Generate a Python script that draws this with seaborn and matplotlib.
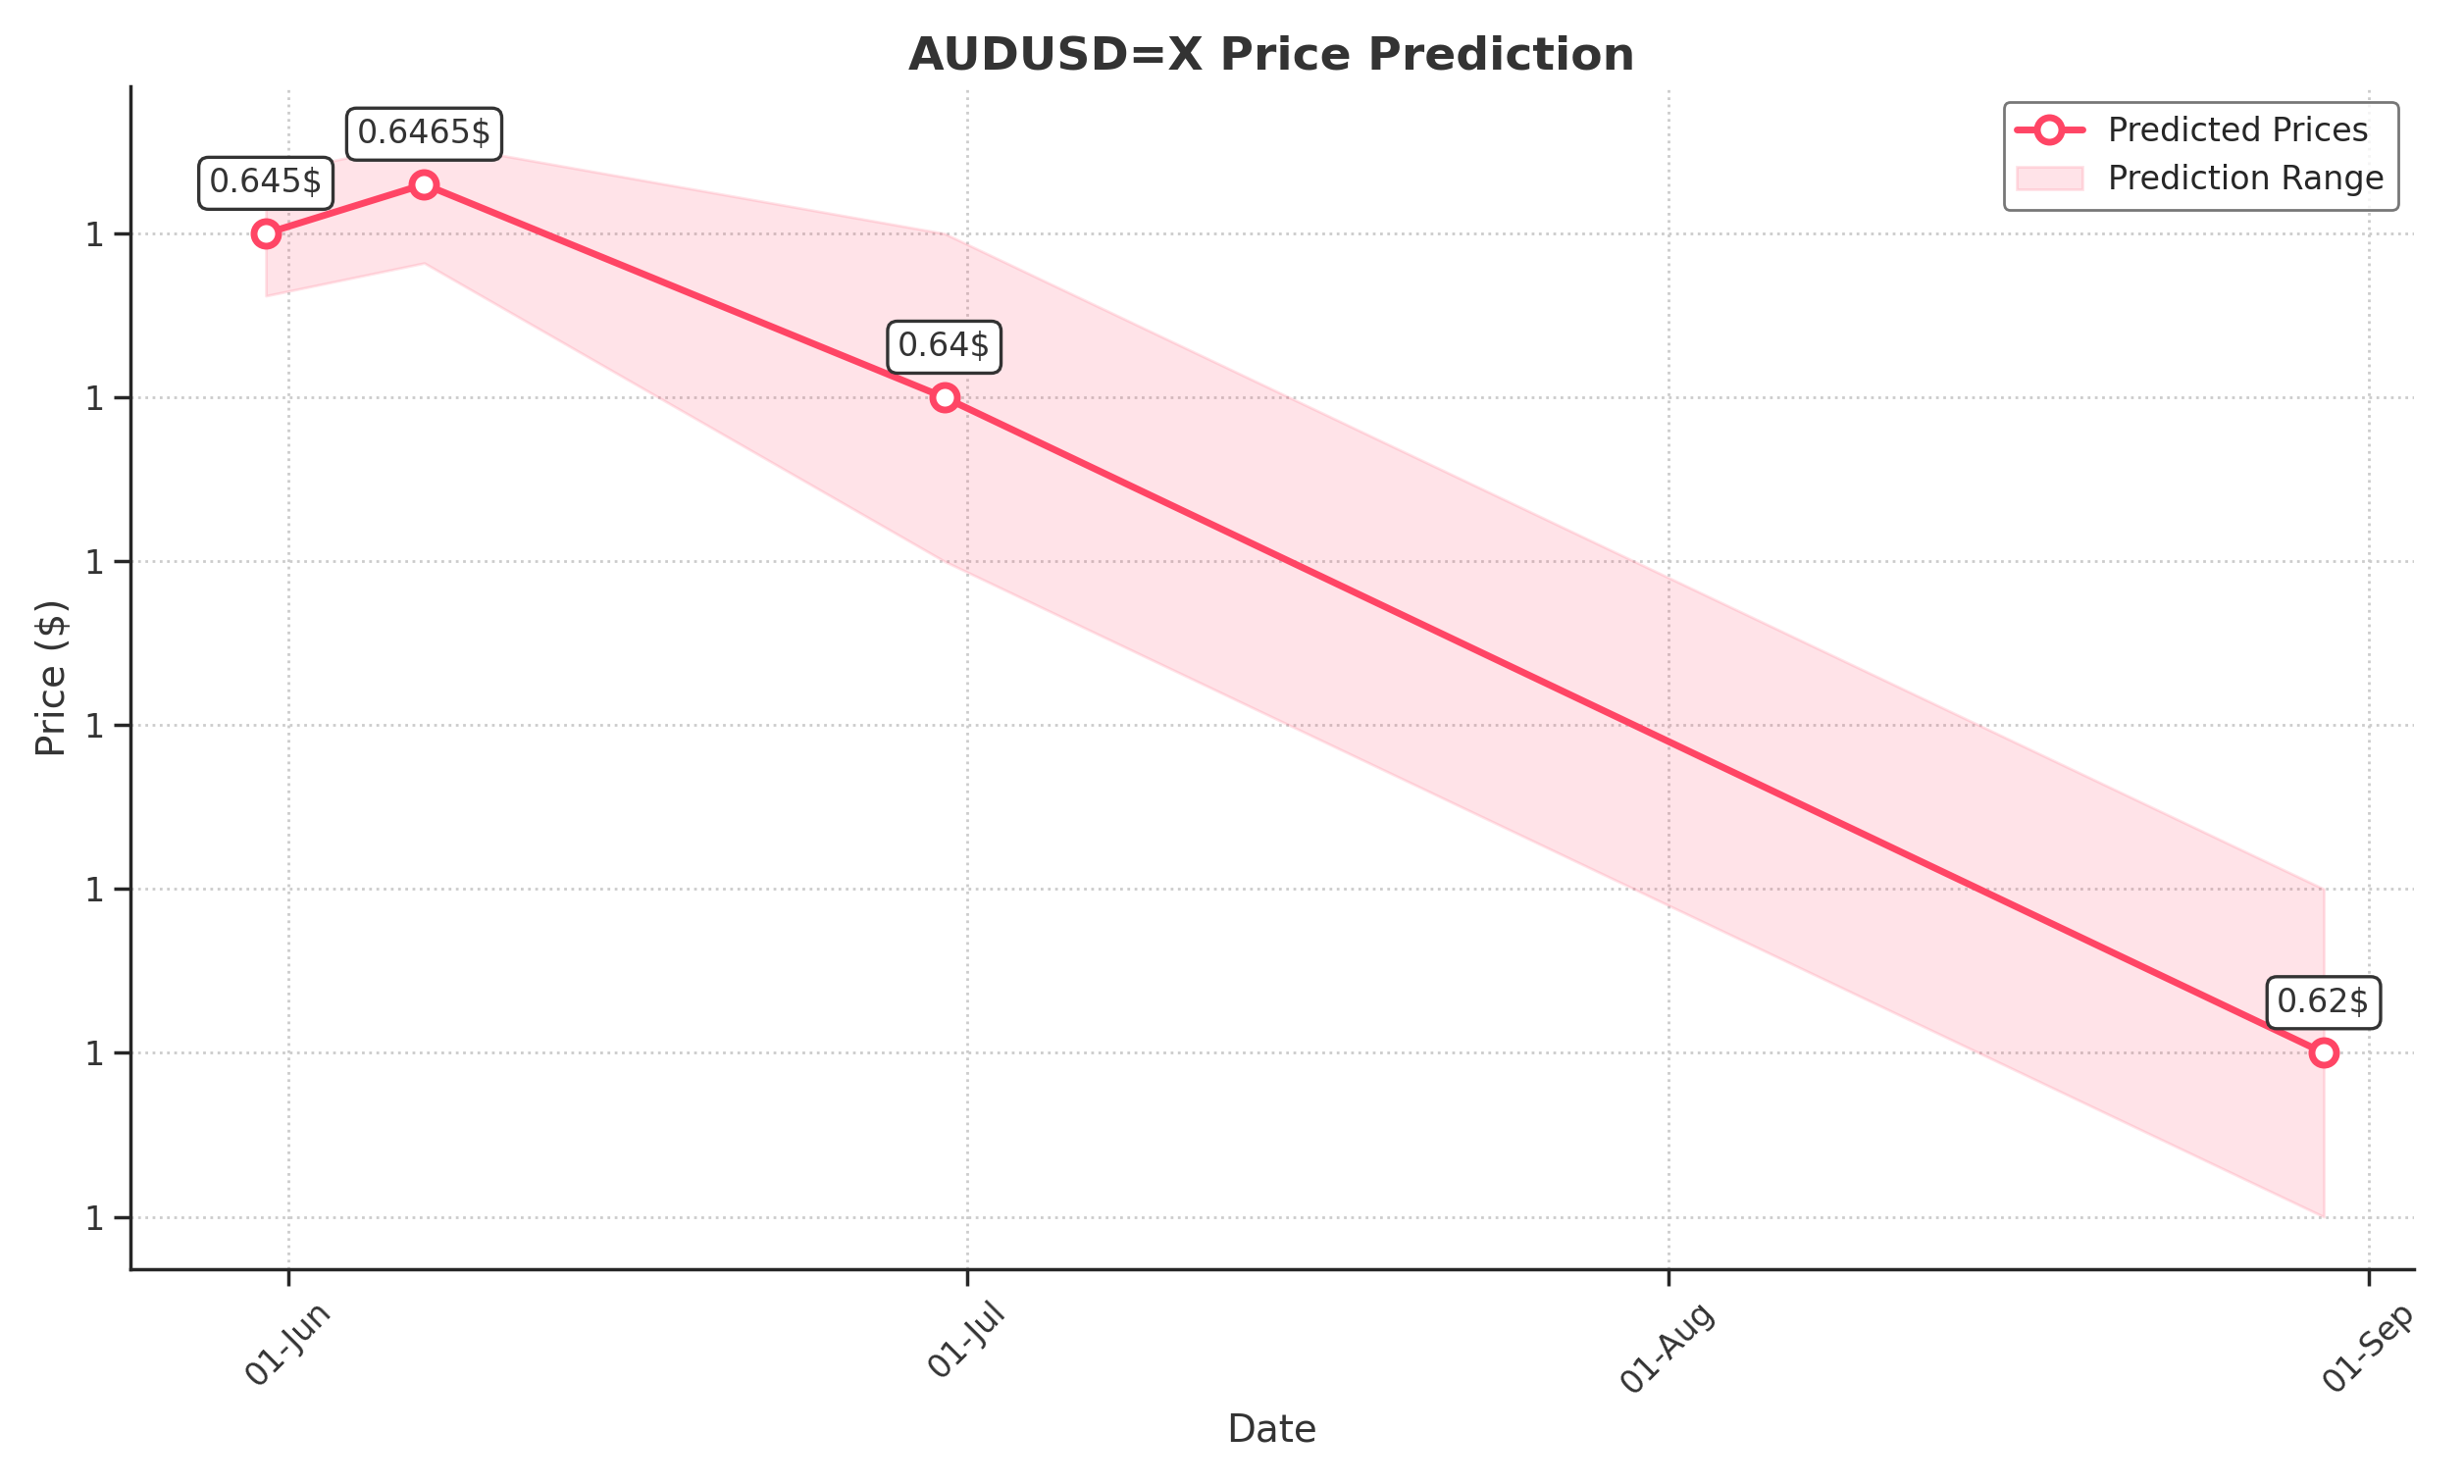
import matplotlib
matplotlib.use("Agg")
import matplotlib.pyplot as plt
import matplotlib.dates as mdates
import matplotlib.ticker as mticker
import seaborn as sns
import pandas as pd

dates = ["2024-05-31", "2024-06-07", "2024-06-30", "2024-08-30"]
prices = [0.645, 0.6465, 0.64, 0.62]
lower = [0.6431, 0.6441, 0.635, 0.615]
upper = [0.6468, 0.6478, 0.645, 0.625]
labels = ["0.645$", "0.6465$", "0.64$", "0.62$"]

sns.set_theme(style="ticks")
plt.rcParams['font.family'] = ['DejaVu Sans']
df = pd.DataFrame({"Date": pd.to_datetime(dates), "Price": prices})
color = "#FF4565"

fig, ax = plt.subplots(figsize=(12.56, 7.565), dpi=200)
sns.lineplot(data=df, x="Date", y="Price", ax=ax, color=color, lw=2.5, marker="o",
             markersize=9, markerfacecolor="white", markeredgecolor=color, markeredgewidth=2.5,
             label="Predicted Prices", zorder=3)
ax.fill_between(df["Date"], lower, upper, color=color, alpha=0.15, label="Prediction Range", zorder=1)
for d, p, t in zip(df["Date"], prices, labels):
    ax.annotate(t, (d, p), xytext=(0, 15), textcoords="offset points", ha="center", fontsize=12,
                color="#333333", zorder=4,
                bbox=dict(boxstyle="round,pad=0.3", fc="white", ec="#333333", lw=1.2))
ax.set_xlim(pd.Timestamp("2024-05-25"), pd.Timestamp("2024-09-03"))
ax.set_ylim(0.6134, 0.6495)
ax.xaxis.set_major_locator(mdates.MonthLocator())
ax.xaxis.set_major_formatter(mdates.DateFormatter("%d-%b"))
ax.yaxis.set_major_locator(mticker.MultipleLocator(0.005))
ax.yaxis.set_major_formatter(mticker.FormatStrFormatter("%.0f"))
plt.setp(ax.get_xticklabels(), rotation=45, fontsize=12, color="#333333")
plt.setp(ax.get_yticklabels(), fontsize=12, color="#333333")
ax.grid(True, linestyle=":", color="#cccccc", lw=1)
sns.despine(ax=ax)
ax.set_title("AUDUSD=X Price Prediction", fontsize=17, fontweight="bold", color="#333333")
ax.set_xlabel("Date", fontsize=14, color="#333333")
ax.set_ylabel("Price ($)", fontsize=14, color="#333333")
h, l = ax.get_legend_handles_labels()
order = [l.index("Predicted Prices"), l.index("Prediction Range")]
ax.legend([h[i] for i in order], [l[i] for i in order], loc="upper right", fontsize=12,
          frameon=True, edgecolor="#555555")
fig.tight_layout()
fig.savefig("out.png", dpi=200)
